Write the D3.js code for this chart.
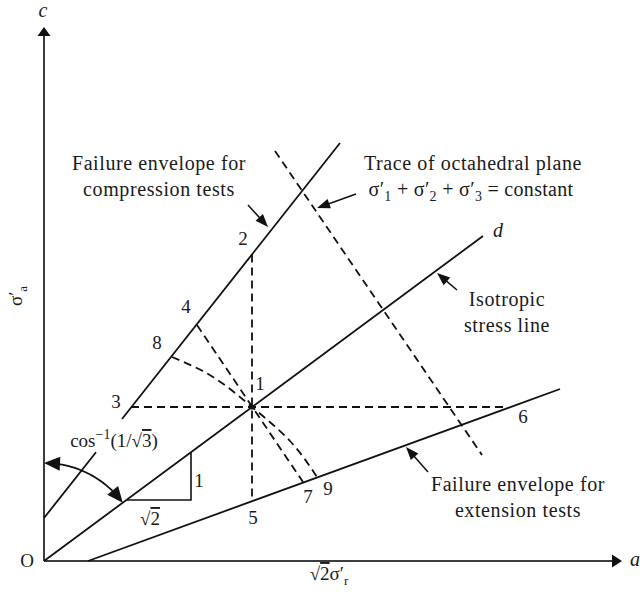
<!DOCTYPE html>
<html>
<head>
<meta charset="utf-8">
<script src="https://cdn.jsdelivr.net/npm/d3@7"></script>
<style>
  html, body { margin: 0; padding: 0; background: #fff; }
  svg { display: block; }
  text { font-family: "Liberation Serif", "Times New Roman", serif; fill: #1a1a1a; }
</style>
</head>
<body>
<svg id="chart" width="640" height="603"></svg>
<script>
// ---------- data (diagram units: x = sqrt(2)·σ'r, y = σ'a) ----------
const axisExtent = [14.45, 13.35];                       // arrow tips of the a and c axes
const isotropicLine = [[0, 0], [10.975, 8.125]];          // O -> d
const compressionLower = [[0, 1.075], [1.3, 2.72]];       // part below the angle label
const compressionUpper = [[1.95, 3.55], [7.4, 10.45]];
const extensionLine = [[1.1, 0], [12.9, 4.3]];
const octahedralTrace = [[5.775, 10.25], [10.95, 2.65]];
const verticalDash = [[5.2, 7.66], [5.2, 1.49]];          // 2 -> 5
const horizontalDash = [[2.175, 3.85], [11.6, 3.85]];     // 3 -> 6
const planeThrough1 = [[3.825, 5.9], [6.475, 1.975]];     // 4 -> 7
const curvedPath = [[3.2, 5.1], [4.225, 4.6], [5.2, 3.85], [6.15, 3.0], [6.825, 2.1]]; // 8 -> 9
const slopeTriangle = [[2.075, 1.525], [3.675, 1.525], [3.675, 2.72]];
const angleArc = { radius: 2.45, from: 90, to: 36.5 };   // degrees
const pointIds = ["1", "2", "3", "4", "5", "6", "7", "8", "9"];
const pointXs = [5.2, 5.2, 2.175, 3.825, 5.2, 11.6, 6.475, 3.2, 6.825];
const pointYs = [3.85, 7.66, 3.85, 5.9, 1.49, 3.85, 1.975, 5.1, 2.1];
const calloutTexts = [
  ["Failure envelope for", "compression tests"],
  ["Trace of octahedral plane", null],
  ["Isotropic", "stress line"],
  ["Failure envelope for", "extension tests"]
];
const calloutArrows = [                                   // [tail, tip]
  [[5.1, 8.9], [5.6, 8.35]],
  [[7.8, 9.175], [6.825, 8.825]],
  [[10.325, 6.775], [9.825, 7.2]],
  [[9.6, 2.225], [9.05, 2.85]]
];

// ---------- scales ----------
const x = d3.scaleLinear().domain([0, 14.5]).range([44, 624]);
const y = d3.scaleLinear().domain([0, 13.5]).range([561, 21]);
const svg = d3.select("#chart");
const line = d3.line().x(d => x(d[0])).y(d => y(d[1]));

function arrowHead(g, tip, from, L, w) {
  const dx = tip[0] - from[0], dy = tip[1] - from[1];
  const len = Math.hypot(dx, dy), ux = dx / len, uy = dy / len;
  const bx = tip[0] - ux * L, by = tip[1] - uy * L;
  const nx = -uy, ny = ux;
  g.append("path")
    .attr("d", `M${tip[0]},${tip[1]}L${bx + nx * w},${by + ny * w}L${bx - nx * w},${by - ny * w}Z`)
    .attr("fill", "#111");
}
const px = p => [x(p[0]), y(p[1])];

// ---------- axes ----------
const axes = svg.append("g").attr("stroke", "#3c3c3c").attr("stroke-width", 2).attr("fill", "none");
axes.append("path").attr("d", line([[0, 0], [axisExtent[0] - 0.2, 0]]));
axes.append("path").attr("d", line([[0, 0], [0, axisExtent[1] - 0.15]]));
arrowHead(svg, px([axisExtent[0], 0]), px([0, 0]), 10, 6.5);
arrowHead(svg, px([0, axisExtent[1]]), px([0, 0]), 9, 6.5);

// ---------- solid lines ----------
const solid = svg.append("g").attr("stroke", "#111").attr("stroke-width", 1.8).attr("fill", "none");
[isotropicLine, compressionLower, compressionUpper, extensionLine].forEach(l =>
  solid.append("path").attr("d", line(l)));
solid.append("path").attr("d", line(slopeTriangle)).attr("stroke-width", 1.6);

// ---------- dashed lines ----------
const dashed = svg.append("g").attr("stroke", "#111").attr("stroke-width", 1.8)
  .attr("fill", "none").attr("stroke-dasharray", "8,5");
[octahedralTrace, verticalDash, horizontalDash, planeThrough1].forEach(l =>
  dashed.append("path").attr("d", line(l)));
dashed.append("path").attr("d", line.curve(d3.curveNatural)(curvedPath));
line.curve(d3.curveLinear);

// point 1 marker
svg.append("circle").attr("cx", x(pointXs[0])).attr("cy", y(pointYs[0])).attr("r", 2.6).attr("fill", "#111");

// ---------- angle arc ----------
const arcPts = d3.range(0, 41).map(i => {
  const a = (angleArc.from + (angleArc.to - angleArc.from) * i / 40) * Math.PI / 180;
  return [angleArc.radius * Math.cos(a), angleArc.radius * Math.sin(a)];
});
svg.append("path").attr("d", line(arcPts.slice(3, 38)))
  .attr("stroke", "#111").attr("stroke-width", 1.8).attr("fill", "none");
arrowHead(svg, px(arcPts[0]), px(arcPts[4]), 16, 7);
arrowHead(svg, px(arcPts[40]), px(arcPts[36]), 16, 7);

// ---------- callout arrows ----------
calloutArrows.forEach(([tail, tip]) => {
  const T = px(tail), P = px(tip);
  const dx = P[0] - T[0], dy = P[1] - T[1], len = Math.hypot(dx, dy);
  const end = [P[0] - dx / len * 9, P[1] - dy / len * 9];
  svg.append("line").attr("x1", T[0]).attr("y1", T[1]).attr("x2", end[0]).attr("y2", end[1])
    .attr("stroke", "#111").attr("stroke-width", 1.5);
  arrowHead(svg, P, T, 13, 5);
});

// ---------- point labels ----------
const labelOffsets = { "1": [8, -17], "2": [-9, -10], "3": [-15, 1], "4": [-11, -12], "5": [1, 23],
  "6": [15, 16], "7": [5, 21], "8": [-15, -8], "9": [11, 18] };
pointIds.forEach((id, i) => {
  const o = labelOffsets[id];
  svg.append("text").attr("x", x(pointXs[i]) + o[0]).attr("y", y(pointYs[i]) + o[1])
    .attr("text-anchor", "middle").attr("font-size", 19).text(id);
});

// ---------- callout texts ----------
const calloutPos = [[159, 170], [473, 170], [507, 306], [518, 491]];
calloutTexts.forEach((lines, i) => {
  const [cx, cy] = calloutPos[i];
  lines.forEach((t, j) => {
    if (t === null) return;
    svg.append("text").attr("x", cx).attr("y", cy + j * 26).attr("text-anchor", "middle")
      .attr("font-size", 20).attr("letter-spacing", "0.6px").text(t);
  });
});

// sigma sum line
(function () {
  const t = svg.append("text").attr("x", 471).attr("y", 196).attr("text-anchor", "middle")
    .attr("font-size", 20).attr("letter-spacing", "0.3px");
  ["1", "2", "3"].forEach((s, k) => {
    t.append("tspan").text("σ′");
    t.append("tspan").text(s).attr("font-size", 14).attr("dy", 5);
    t.append("tspan").text(k < 2 ? " + " : " = constant").attr("dy", -5);
  });
})();

// axis letters
svg.append("text").attr("x", 43).attr("y", 17).attr("text-anchor", "middle")
  .attr("font-size", 20).attr("font-style", "italic").text("c");
svg.append("text").attr("x", 630).attr("y", 566)
  .attr("font-size", 20).attr("font-style", "italic").text("a");
svg.append("text").attr("x", 498).attr("y", 237).attr("text-anchor", "middle")
  .attr("font-size", 20).attr("font-style", "italic").text("d");
svg.append("text").attr("x", 27).attr("y", 567).attr("text-anchor", "middle")
  .attr("font-size", 19).text("O");

// slope triangle labels
svg.append("text").attr("x", 199).attr("y", 487).attr("text-anchor", "middle").attr("font-size", 19).text("1");
(function () {
  const t = svg.append("text").attr("x", 150).attr("y", 525).attr("text-anchor", "middle").attr("font-size", 19);
  t.append("tspan").text("√");
  t.append("tspan").text("2").style("text-decoration", "overline");
})();

// angle label
(function () {
  const t = svg.append("text").attr("x", 114).attr("y", 447).attr("text-anchor", "middle").attr("font-size", 19);
  t.append("tspan").text("cos");
  t.append("tspan").text("−1").attr("font-size", 14).attr("dy", -8);
  t.append("tspan").text("(1/√").attr("dy", 8);
  t.append("tspan").text("3").style("text-decoration", "overline");
  t.append("tspan").text(")");
})();

// x axis title
(function () {
  const t = svg.append("text").attr("x", 329).attr("y", 580).attr("text-anchor", "middle").attr("font-size", 19);
  t.append("tspan").text("√");
  t.append("tspan").text("2").style("text-decoration", "overline");
  t.append("tspan").text("σ′");
  t.append("tspan").text("r").attr("font-size", 13).attr("dy", 5);
})();

// y axis title
(function () {
  const t = svg.append("text").attr("transform", "translate(22,296) rotate(-90)")
    .attr("text-anchor", "middle").attr("font-size", 19);
  t.append("tspan").text("σ′");
  t.append("tspan").text("a").attr("font-size", 13).attr("dy", 5);
})();
</script>
</body>
</html>
